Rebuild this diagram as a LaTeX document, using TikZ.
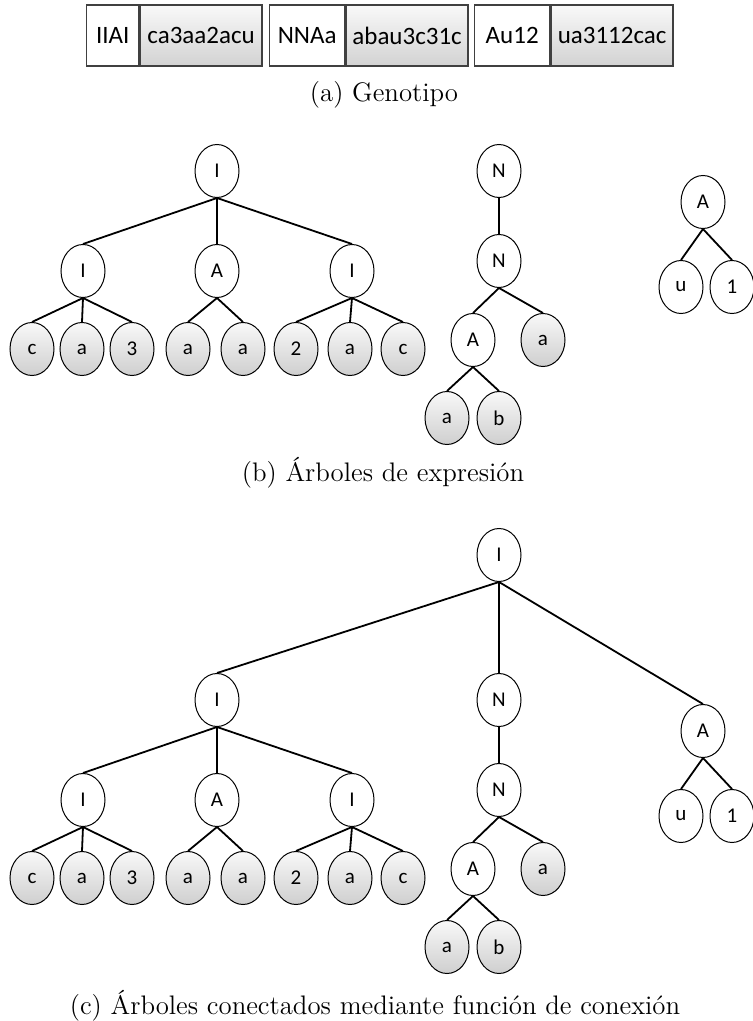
\documentclass[tikz,border=0pt]{standalone}
\usepackage{fontspec}
\newfontfamily\nodefont{Carlito}
\usetikzlibrary{shapes.geometric}

\tikzset{
  tn/.style={ellipse, draw=black, line width=0.5pt, minimum width=22pt,
    minimum height=26.5pt, inner sep=0pt, fill=white,
    font=\nodefont\fontsize{10.5}{12}\selectfont},
  leaf/.style={tn, top color=gray!5, bottom color=gray!38},
  edge/.style={line width=0.9pt},
  head/.style={rectangle, draw=black!75, line width=0.7pt, minimum height=30.5pt,
    inner sep=0pt, anchor=west, font=\nodefont\fontsize{12.5}{14}\selectfont},
  tail/.style={head, top color=gray!5, bottom color=gray!35, minimum width=61pt},
  captext/.style={anchor=base, inner sep=0pt, font=\fontsize{13.4}{16}\selectfont}
}

% the three expression trees; #1 is a prefix for the node names
\newcommand\exprtrees[1]{%
  % first tree
  \node[tn] (#1r) at (217,171) {I};
  \node[tn] (#1x) at (83,271) {I};
  \node[tn] (#1y) at (217,271) {A};
  \node[tn] (#1z) at (352,271) {I};
  \node[leaf] (#1l1) at (32,349) {c};
  \node[leaf] (#1l2) at (82,349) {a};
  \node[leaf] (#1l3) at (132,349) {3};
  \node[leaf] (#1l4) at (188,349) {a};
  \node[leaf] (#1l5) at (243,349) {a};
  \node[leaf] (#1l6) at (296,349) {2};
  \node[leaf] (#1l7) at (350,349) {a};
  \node[leaf] (#1l8) at (403,349) {c};
  \foreach \c in {x,y,z} \draw[edge] (#1r.south) -- (#1\c.north);
  \foreach \c in {l1,l2,l3} \draw[edge] (#1x.south) -- (#1\c.north);
  \foreach \c in {l4,l5} \draw[edge] (#1y.south) -- (#1\c.north);
  \foreach \c in {l6,l7,l8} \draw[edge] (#1z.south) -- (#1\c.north);
  % second tree
  \node[tn] (#1n) at (499,171) {N};
  \node[tn] (#1m) at (499,261) {N};
  \node[tn] (#1p) at (473,340) {A};
  \node[leaf] (#1q) at (543,340) {a};
  \node[leaf] (#1s) at (447,418) {a};
  \node[leaf] (#1t) at (499,418) {b};
  \draw[edge] (#1n.south) -- (#1m.north);
  \draw[edge] (#1m.south) -- (#1p.north);
  \draw[edge] (#1m.south) -- (#1q.north);
  \draw[edge] (#1p.south) -- (#1s.north);
  \draw[edge] (#1p.south) -- (#1t.north);
  % third tree
  \node[tn] (#1a) at (703,202) {A};
  \node[tn] (#1u) at (681,287) {u};
  \node[tn] (#1o) at (732,287) {1};
  \draw[edge] (#1a.south) -- (#1u.north);
  \draw[edge] (#1a.south) -- (#1o.north);
}

\begin{document}
\begin{tikzpicture}[x=0.5pt,y=-0.5pt]
  \useasboundingbox (0,0) rectangle (753,1021);

  % genotype: three genes, head and tail
  \node[head, minimum width=26pt] (h1) at (86,35.5) {IIAI};
  \node[tail] (t1) at (h1.east) {ca3aa2acu};
  \node[head, minimum width=37.5pt] (h2) at (269,35.5) {NNAa};
  \node[tail] (t2) at (h2.east) {abau3c31c};
  \node[head, minimum width=37.5pt] (h3) at (474,35.5) {Au12};
  \node[tail] (t3) at (h3.east) {ua3112cac};
  \node[captext] (capa) at (384,102) {(a) Genotipo};

  % separate expression trees
  \exprtrees{b}
  \node[captext] (capb) at (383,481) {(b) Árboles de expresión};

  % the same trees joined under a linking function
  \begin{scope}[yshift=-264.5pt]
    \exprtrees{c}
  \end{scope}
  \node[tn] (top) at (499,555) {I};
  \draw[edge] (top.south) -- (cr.north);
  \draw[edge] (top.south) -- (cn.north);
  \draw[edge] (top.south) -- (ca.north);
  \node[captext] (capc) at (375,1014) {(c) Árboles conectados mediante función de conexión};
\end{tikzpicture}
\end{document}
